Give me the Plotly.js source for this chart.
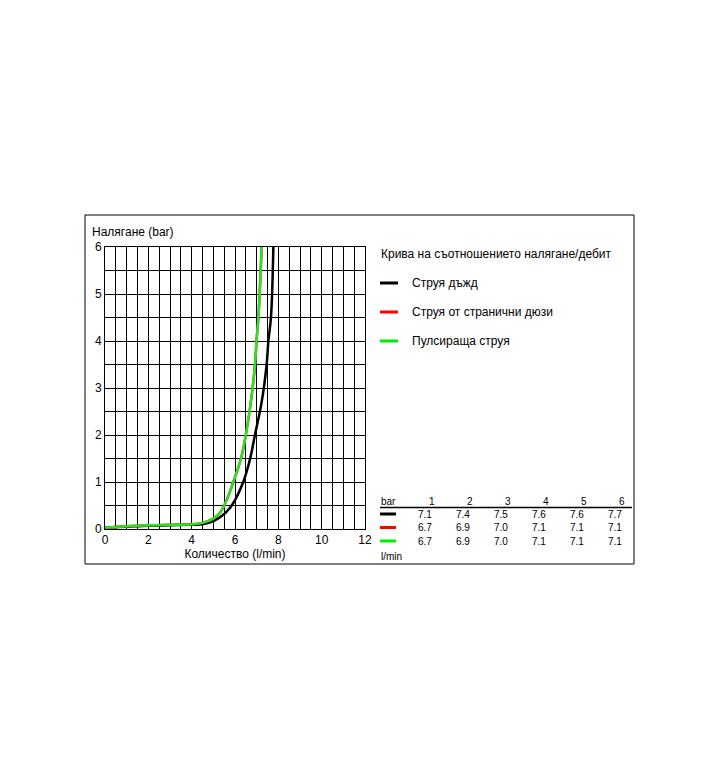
<!DOCTYPE html>
<html>
<head>
<meta charset="utf-8">
<script src="https://cdn.plot.ly/plotly-3.0.1.min.js"></script>
<style>html,body{margin:0;padding:0;background:#fff;}#chart{width:720px;height:780px;}</style>
</head>
<body>
<div id="chart"></div>
<script>
// ---- data ----
const seriesNames = ["Струя дъжд", "Струя от странични дюзи", "Пулсираща струя"];
const seriesColors = ["#000000", "#ff0000", "#00ee00"];
// curves: flow (l/min) vs pressure (bar)
const flowRain = [0, 1, 2, 3, 4, 4.5, 5.0, 5.4, 5.85, 6.38, 6.7, 6.92, 7.23, 7.46, 7.54, 7.66, 7.77];
const presRain = [0.03, 0.05, 0.07, 0.08, 0.09, 0.10, 0.17, 0.28, 0.5, 1.0, 1.5, 2.0, 2.7, 3.5, 4.0, 4.5, 6.0];
const flowSide = [0, 1, 2, 3, 4, 4.5, 5.0, 5.3, 5.6, 5.92, 6.31, 6.69, 6.92, 7.0, 7.08, 7.23];
const presSide = [0.03, 0.06, 0.08, 0.09, 0.10, 0.13, 0.22, 0.34, 0.6, 1.0, 1.56, 2.56, 3.48, 4.05, 4.5, 6.0];
const flowPuls = flowSide;
const presPuls = presSide;
// table
const tableBar = [1, 2, 3, 4, 5, 6];
const tableRain = ["7.1", "7.4", "7.5", "7.6", "7.6", "7.7"];
const tableSide = ["6.7", "6.9", "7.0", "7.1", "7.1", "7.1"];
const tablePuls = ["6.7", "6.9", "7.0", "7.1", "7.1", "7.1"];
const chartTitle = "Крива на съотношението налягане/дебит";
const xTitle = "Количество (l/min)";
const yTitle = "Налягане (bar)";

// ---- layout helpers (pixel -> paper) ----
const L = 105, R = 365, T = 247, B = 529;
const fx = px => (px - L) / (R - L);
const fy = py => (B - py) / (B - T);
const FONT = "Liberation Sans, Arial, sans-serif";

const traces = [
  {x: flowRain, y: presRain, mode: "lines", line: {color: seriesColors[0], width: 2.5, shape: "spline"}, name: seriesNames[0]},
  {x: flowSide, y: presSide, mode: "lines", line: {color: seriesColors[1], width: 2.5, shape: "spline"}, name: seriesNames[1]},
  {x: flowPuls, y: presPuls, mode: "lines", line: {color: "#22e622", width: 2.5, shape: "spline"}, name: seriesNames[2]}
];

const shapes = [
  {type: "rect", xref: "paper", yref: "paper", x0: fx(85), x1: fx(634), y0: fy(564), y1: fy(215), line: {color: "#000", width: 1}, layer: "below"},
  {type: "line", xref: "paper", yref: "paper", x0: fx(380), x1: fx(632), y0: fy(507.5), y1: fy(507.5), line: {color: "#000", width: 1.5}}
];
const annotations = [
  {text: yTitle, xref: "paper", yref: "paper", x: fx(90), y: fy(232), xanchor: "left", yanchor: "middle", showarrow: false, font: {size: 12, family: FONT, color: "#000"}},
  {text: chartTitle, xref: "paper", yref: "paper", x: fx(379), y: fy(254), xanchor: "left", yanchor: "middle", showarrow: false, font: {size: 12, family: FONT, color: "#000"}}
];
const legendY = [283, 312, 341];
seriesNames.forEach((n, i) => {
  shapes.push({type: "line", xref: "paper", yref: "paper", x0: fx(380), x1: fx(398), y0: fy(legendY[i]), y1: fy(legendY[i]), line: {color: seriesColors[i], width: 3}});
  annotations.push({text: n, xref: "paper", yref: "paper", x: fx(410), y: fy(legendY[i]), xanchor: "left", yanchor: "middle", showarrow: false, font: {size: 12, family: FONT, color: "#000"}});
});
// table
const colX = tableBar.map((b, i) => 437 + 38 * i);
const rowY = [514, 527.5, 541];
const TF = {size: 10, family: FONT, color: "#000"};
annotations.push({text: "bar", xref: "paper", yref: "paper", x: fx(379), y: fy(501), xanchor: "left", yanchor: "middle", showarrow: false, font: TF});
annotations.push({text: "l/min", xref: "paper", yref: "paper", x: fx(379), y: fy(556.5), xanchor: "left", yanchor: "middle", showarrow: false, font: TF});
tableBar.forEach((b, i) => {
  annotations.push({text: String(b), xref: "paper", yref: "paper", x: fx(colX[i]), y: fy(501), xanchor: "right", yanchor: "middle", showarrow: false, font: TF});
});
[tableRain, tableSide, tablePuls].forEach((row, r) => {
  shapes.push({type: "line", xref: "paper", yref: "paper", x0: fx(380), x1: fx(396), y0: fy(rowY[r]), y1: fy(rowY[r]), line: {color: seriesColors[r], width: 3}});
  row.forEach((v, i) => {
    annotations.push({text: v, xref: "paper", yref: "paper", x: fx(colX[i] - 3), y: fy(rowY[r]), xanchor: "right", yanchor: "middle", showarrow: false, font: TF});
  });
});

const layout = {
  width: 720, height: 780,
  margin: {l: L, r: 720 - R, t: T, b: 780 - B, pad: 0},
  paper_bgcolor: "#fff", plot_bgcolor: "#fff",
  showlegend: false,
  font: {family: FONT, size: 12, color: "#000"},
  xaxis: {
    range: [0, 12], dtick: 2, tick0: 0, showgrid: true, gridcolor: "#000", gridwidth: 1,
    minor: {dtick: 0.5, showgrid: true, gridcolor: "#000", gridwidth: 1},
    showline: true, linecolor: "#000", linewidth: 1, mirror: true, zeroline: false,
    ticks: "", ticklen: 0, tickfont: {size: 12, family: FONT, color: "#000"},
    title: {text: xTitle, font: {size: 12, family: FONT, color: "#000"}, standoff: 2}
  },
  yaxis: {
    range: [0, 6], dtick: 1, tick0: 0, showgrid: true, gridcolor: "#000", gridwidth: 1,
    minor: {dtick: 0.5, showgrid: true, gridcolor: "#000", gridwidth: 1},
    showline: true, linecolor: "#000", linewidth: 1, mirror: true, zeroline: false,
    ticks: "", ticklen: 0, tickfont: {size: 12, family: FONT, color: "#000"}
  },
  shapes: shapes,
  annotations: annotations
};

Plotly.newPlot("chart", traces, layout, {staticPlot: true, displayModeBar: false});
</script>
</body>
</html>
